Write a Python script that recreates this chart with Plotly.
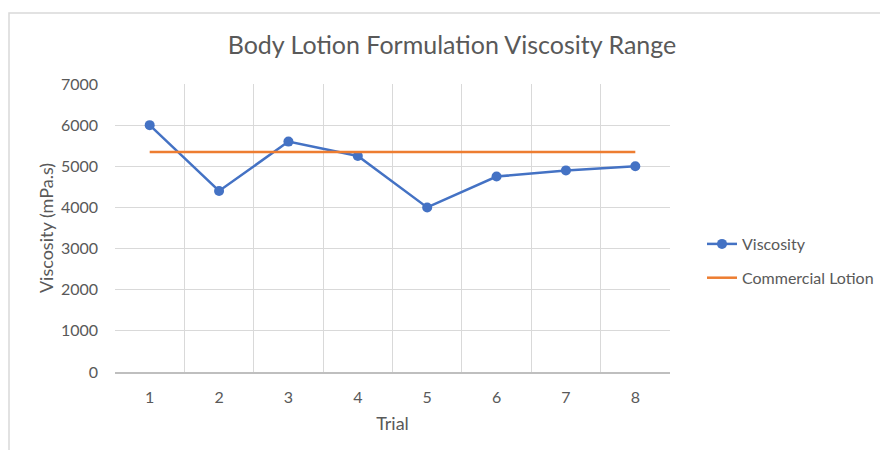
import plotly.graph_objects as go

# Viscosity measurements per trial and the commercial reference value
trials = [1, 2, 3, 4, 5, 6, 7, 8]
viscosity = [6000, 4400, 5600, 5250, 4000, 4750, 4900, 5000]
commercial_lotion = [5350, 5350, 5350, 5350, 5350, 5350, 5350, 5350]
y_ticks = [0, 1000, 2000, 3000, 4000, 5000, 6000, 7000]

FONT = "Lato, Open Sans, sans-serif"
TEXT = "#595959"
GRID = "#d9d9d9"

fig = go.Figure()
fig.add_trace(go.Scatter(
    x=trials, y=viscosity, name="Viscosity", mode="lines+markers",
    line=dict(color="#4472C4", width=2.5),
    marker=dict(color="#4472C4", size=10),
    legendgroup="a",
))
fig.add_trace(go.Scatter(
    x=trials, y=commercial_lotion, name="Commercial Lotion", mode="lines",
    line=dict(color="#ED7D31", width=2.5),
    legendgroup="b",
))

# plot area in pixels: left 115, right 670, top 84, bottom 372
L, R, T, B = 115, 670, 84, 372
W, H = 880, 450
pw, ph = R - L, B - T

def px_x(v):
    return (v - L) / pw

def px_y(v):
    return (B - v) / ph

fig.update_layout(
    width=W, height=H,
    margin=dict(l=L, r=W - R, t=T, b=H - B, autoexpand=False),
    paper_bgcolor="white", plot_bgcolor="white",
    font=dict(family=FONT, color=TEXT, size=16),
    title=dict(text="Body Lotion Formulation Viscosity Range",
               x=452 / W, xref="container", xanchor="center",
               y=1 - 45 / H, yref="container", yanchor="middle",
               font=dict(size=25, color=TEXT, family=FONT)),
    showlegend=True,
    legend=dict(x=px_x(702), y=px_y(227), xanchor="left", yanchor="top",
                traceorder="grouped", tracegroupgap=10,
                font=dict(size=16, color=TEXT, family=FONT),
                bgcolor="rgba(0,0,0,0)"),
    shapes=[dict(type="rect", xref="paper", yref="paper",
                 x0=px_x(9), x1=px_x(890), y0=px_y(460), y1=px_y(13),
                 line=dict(color="#d9d9d9", width=1.5), layer="below")],
)

fig.update_xaxes(
    range=[0.5, 8.5], tickvals=trials, ticktext=[str(t) for t in trials],
    showgrid=False, zeroline=False,
    minor=dict(tickvals=[i + 0.5 for i in range(0, 9)], showgrid=True,
               gridcolor=GRID, gridwidth=1),
    showline=True, linecolor="#bfbfbf", linewidth=1.5,
    ticks="", ticklabelstandoff=10,
    title=dict(text="Trial", font=dict(size=18, color=TEXT), standoff=12),
    tickfont=dict(size=16, color=TEXT),
)
fig.update_yaxes(
    range=[0, 7000], tickvals=y_ticks,
    showgrid=True, gridcolor=GRID, gridwidth=1, zeroline=False,
    showline=False, ticks="", ticklabelstandoff=16,
    title=dict(text="Viscosity (mPa.s)", font=dict(size=18, color=TEXT), standoff=2),
    tickfont=dict(size=16, color=TEXT),
)

fig.write_html("out.html")
